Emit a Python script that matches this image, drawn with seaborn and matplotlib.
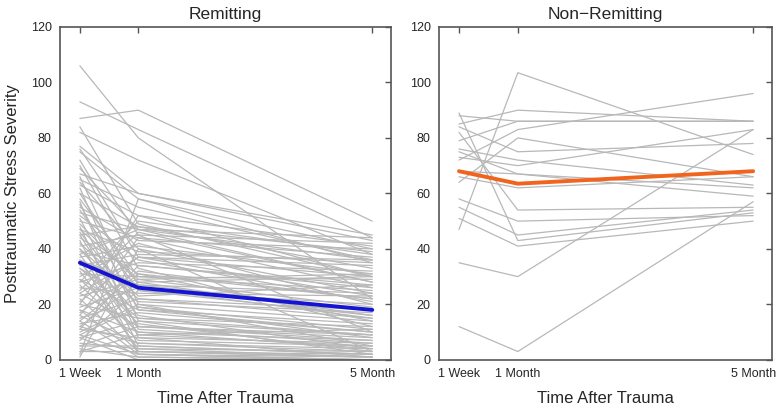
import numpy as np
import pandas as pd
import seaborn as sn
import matplotlib.pyplot as plt

# time points (months after trauma) and labels
times = [0, 1, 5]
time_labels = ["1 Week", "1 Month", "5 Month"]

# Remitting: one row per subject -> 1 week, 1 month, 5 month
remit_week = [106, 93, 87, 84, 82, 77, 76, 75, 70, 69, 67, 66, 65, 64, 62, 60, 58, 57, 55, 54,
              53, 52, 51, 50, 49, 48, 47, 46, 45, 44, 43, 42, 41, 40, 39, 38, 37, 36, 35, 34,
              33, 32, 31, 30, 29, 28, 27, 26, 25, 24, 23, 22, 21, 20, 19, 18, 17, 16, 15, 14,
              13, 12, 11, 10, 9, 8, 7, 6, 5, 4, 3, 2, 1, 20, 11, 28, 16, 36, 45, 60,
              72, 63, 56, 14, 9, 33, 24, 40, 5, 18, 29, 12, 3, 8, 47, 38]
remit_month = [80, 83, 90, 49, 72, 60, 45, 58, 33, 47, 60, 20, 55, 40, 14, 48, 30, 8, 43, 25,
               47, 36, 11, 44, 28, 5, 39, 19, 48, 31, 2, 23, 45, 16, 34, 9, 41, 27, 13, 38,
               21, 4, 30, 42, 18, 35, 7, 24, 46, 12, 29, 3, 37, 15, 26, 10, 32, 6, 22, 1,
               17, 28, 8, 20, 2, 14, 25, 4, 12, 1, 9, 58, 40, 52, 34, 50, 44, 3, 12, 27,
               37, 52, 18, 31, 19, 15, 37, 22, 5, 2, 10, 6, 3, 0, 29, 47]
remit_5month = [22, 44, 50, 30, 38, 43, 10, 40, 12, 28, 45, 5, 36, 3, 2, 33, 25, 1, 40, 16,
                44, 21, 6, 37, 30, 2, 35, 8, 39, 14, 0, 27, 42, 4, 26, 11, 31, 24, 3, 36,
                17, 1, 29, 20, 13, 32, 5, 23, 28, 9, 19, 2, 34, 12, 15, 7, 22, 4, 18, 0,
                10, 16, 6, 14, 1, 9, 20, 3, 8, 0, 5, 35, 24, 30, 27, 38, 26, 1, 7, 18,
                23, 41, 10, 22, 11, 9, 30, 15, 2, 0, 4, 3, 1, 0, 31, 36]
remit_mean = [35, 26, 18]

# Non-Remitting
nonremit_week = [47, 35, 12, 85, 88, 72, 64, 84, 76, 73, 68, 89, 82, 58, 51, 55, 75, 66, 79]
nonremit_month = [103.5, 30, 3, 90, 86, 83, 80, 75, 72, 70, 67, 43, 54, 50, 41, 45, 67, 62, 86]
nonremit_5month = [74, 83, 57, 86, 86, 96, 66, 78, 63, 83, 62, 53, 55, 52, 50, 54, 59, 66, 86]
nonremit_mean = [68, 63.5, 68]


def to_long(week, month, month5):
    rows = []
    for i, vals in enumerate(zip(week, month, month5)):
        for t, v in zip(times, vals):
            rows.append({"id": i, "t": t, "score": v})
    return pd.DataFrame(rows)


sn.set_style("white")
plt.rcParams['font.family'] = ['Liberation Sans', 'DejaVu Sans']

fig = plt.figure(figsize=(7.76, 4.08), dpi=100)
ax1 = fig.add_axes([0.0773, 0.118, 0.4265, 0.816])
ax2 = fig.add_axes([0.5657, 0.118, 0.4291, 0.816])

panels = [
    (ax1, "Remitting", (remit_week, remit_month, remit_5month), remit_mean, "#1414d2"),
    (ax2, "Non\u2212Remitting", (nonremit_week, nonremit_month, nonremit_5month), nonremit_mean, "#f0641e"),
]

for ax, title, series, mean, col in panels:
    df = to_long(*series)
    sn.lineplot(data=df, x="t", y="score", units="id", estimator=None,
                color="#b8b8b8", linewidth=0.9, ax=ax, legend=False)
    mdf = pd.DataFrame({"t": times, "score": mean})
    sn.lineplot(data=mdf, x="t", y="score", color=col, linewidth=2.8, ax=ax)
    ax.set_xlim(-0.34, 5.32)
    ax.set_ylim(0, 120)
    ax.set_xticks(times)
    ax.set_xticklabels(time_labels)
    ax.set_yticks(range(0, 121, 20))
    ax.tick_params(direction="in", length=4, width=1, color="#555555",
                   top=True, right=True, labelsize=9, pad=6)
    for s in ax.spines.values():
        s.set_color("#555555")
        s.set_linewidth(1.2)
    ax.set_title(title, fontsize=12.5, pad=6)
    ax.set_xlabel("Time After Trauma", fontsize=12, labelpad=8)
    ax.set_ylabel("")

ax1.set_ylabel("Posttraumatic Stress Severity", fontsize=12, labelpad=8)

plt.savefig("out.png", dpi=100)
